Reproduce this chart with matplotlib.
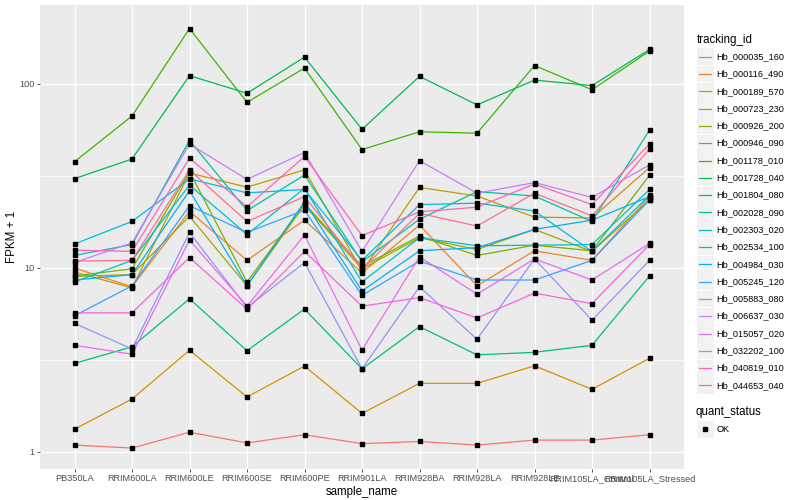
import numpy as np
import matplotlib
matplotlib.use('Agg')
import matplotlib.pyplot as plt
from matplotlib.lines import Line2D
from matplotlib.patches import Rectangle

plt.rcParams['font.family'] = ['Liberation Sans', 'DejaVu Sans']

samples = ['PB350LA', 'RRIM600LA', 'RRIM600LE', 'RRIM600SE', 'RRIM600PE', 'RRIM901LA',
           'RRIM928BA', 'RRIM928LA', 'RRIM928LE', 'RRIM105LA_Control', 'RRIM105LA_Stressed']

tracking_ids = ['Hb_000035_160', 'Hb_000116_490', 'Hb_000189_570', 'Hb_000723_230',
                'Hb_000926_200', 'Hb_000946_090', 'Hb_001178_010', 'Hb_001728_040',
                'Hb_001804_080', 'Hb_002028_090', 'Hb_002303_020', 'Hb_002534_100',
                'Hb_004984_030', 'Hb_005245_120', 'Hb_005883_080', 'Hb_006637_030',
                'Hb_015057_020', 'Hb_032202_100', 'Hb_040819_010', 'Hb_044653_040']

colors = ['#F8766D', '#EA8331', '#D89000', '#C09B00', '#A3A500', '#7CAE00', '#39B600',
          '#00BB4E', '#00BF7D', '#00C1A3', '#00BFC4', '#00BAE0', '#00B0F6', '#35A2FF',
          '#9590FF', '#C77CFF', '#E76BF3', '#FA62DB', '#FF62BC', '#FF6C91']

# FPKM + 1 values, one list per tracking_id (order of samples above)
fpkm = {
    'Hb_000035_160': [1.09, 1.05, 1.28, 1.12, 1.24, 1.11, 1.14, 1.09, 1.16, 1.16, 1.24],
    'Hb_000116_490': [10.0, 7.9, 20.3, 11.0, 18.2, 9.4, 17.1, 8.0, 12.4, 11.0, 24.4],
    'Hb_000189_570': [1.33, 1.94, 3.57, 1.99, 2.93, 1.62, 2.36, 2.36, 2.94, 2.19, 3.23],
    'Hb_000723_230': [9.5, 7.8, 32.8, 27.5, 34.1, 9.6, 27.4, 24.6, 18.9, 18.7, 35.1],
    'Hb_000926_200': [9.0, 9.2, 19.1, 8.0, 22.0, 9.9, 14.6, 12.6, 16.2, 12.3, 23.4],
    'Hb_000946_090': [9.05, 9.9, 33.4, 8.4, 22.4, 10.2, 14.9, 11.7, 13.3, 12.4, 31.9],
    'Hb_001178_010': [37.8, 67.0, 200.0, 79.5, 122.0, 44.0, 55.0, 54.0, 126.0, 93.0, 151.0],
    'Hb_001728_040': [30.6, 39.1, 111.0, 89.0, 140.0, 56.7, 110.0, 77.0, 105.0, 98.0, 154.0],
    'Hb_001804_080': [3.03, 3.73, 6.8, 3.55, 5.98, 2.83, 4.8, 3.37, 3.48, 3.8, 9.05],
    'Hb_002028_090': [11.7, 13.4, 49.4, 20.5, 32.0, 10.8, 18.4, 26.0, 24.6, 17.9, 56.2],
    'Hb_002303_020': [8.4, 11.0, 28.2, 15.2, 27.1, 8.4, 14.6, 13.2, 13.3, 13.4, 26.7],
    'Hb_002534_100': [13.5, 17.9, 30.5, 25.6, 26.7, 11.0, 22.1, 22.5, 20.4, 12.3, 24.8],
    'Hb_004984_030': [8.6, 9.2, 26.3, 8.0, 22.9, 7.5, 12.4, 12.9, 16.2, 18.2, 24.4],
    'Hb_005245_120': [5.5, 8.0, 21.8, 15.6, 20.6, 7.1, 10.9, 8.6, 8.6, 11.0, 23.4],
    'Hb_005883_080': [5.0, 3.63, 15.6, 6.1, 10.7, 2.83, 7.9, 4.1, 11.2, 5.2, 11.0],
    'Hb_006637_030': [10.7, 13.7, 47.2, 30.3, 42.4, 12.3, 38.3, 25.5, 29.1, 24.2, 36.3],
    'Hb_015057_020': [3.8, 3.4, 14.2, 6.2, 15.1, 3.58, 11.5, 7.2, 11.2, 8.6, 13.6],
    'Hb_032202_100': [5.7, 5.7, 11.4, 5.97, 12.3, 6.2, 6.9, 5.35, 7.3, 6.4, 13.4],
    'Hb_040819_010': [12.5, 12.3, 39.5, 21.5, 40.3, 15.0, 20.2, 21.4, 28.6, 22.1, 47.2],
    'Hb_044653_040': [10.9, 11.0, 34.1, 17.9, 24.4, 9.9, 19.8, 16.9, 25.5, 19.2, 44.4],
}

fig = plt.figure(figsize=(8, 5), dpi=100)
ax = fig.add_axes([0.05, 0.0626, 0.805, 0.9274])
ax.set_facecolor('#EBEBEB')

x = np.arange(len(samples))
for tid, col in zip(tracking_ids, colors):
    ax.plot(x, fpkm[tid], color=col, lw=0.9, zorder=3)
for tid in tracking_ids:
    ax.plot(x, fpkm[tid], ls='none', marker='s', ms=2.2, color='black', zorder=4)

ax.set_yscale('log')
ax.set_ylim(0.811, 268.7)
ax.set_xlim(-0.6, len(samples) - 0.4)
ax.set_yticks([1, 10, 100])
ax.set_yticklabels(['1', '10', '100'])
ax.yaxis.set_minor_locator(matplotlib.ticker.NullLocator())
ax.set_xticks(x)
ax.set_xticklabels(samples)

for v in [1, 10, 100]:
    ax.axhline(v, color='white', lw=1.0, zorder=1)
for v in [10 ** 0.5, 10 ** 1.5]:
    ax.axhline(v, color='white', lw=0.5, zorder=1)
for xi in x:
    ax.axvline(xi, color='white', lw=1.0, zorder=1)

for s in ax.spines.values():
    s.set_visible(False)
ax.tick_params(axis='both', colors='#333333', length=2.5, width=0.6, labelsize=6.6,
               labelcolor='#4D4D4D', pad=1.5)
ax.set_xlabel('sample_name', fontsize=8.3, labelpad=2)
ax.set_ylabel('FPKM + 1', fontsize=8.3, labelpad=0.5)

# legend drawn by hand, ggplot style
W, H = 800.0, 500.0
fig.text(697 / W, 1 - 40.5 / H, 'tracking_id', fontsize=8.3, va='center', ha='left')
for i, (tid, col) in enumerate(zip(tracking_ids, colors)):
    yc = 56.7 + i * 17.3
    fig.add_artist(Rectangle((697 / W, 1 - (yc + 8.4) / H), 16.5 / W, 16.8 / H,
                             transform=fig.transFigure, facecolor='#F2F2F2',
                             edgecolor='none'))
    fig.add_artist(Line2D([698.8 / W, 711.2 / W], [1 - yc / H, 1 - yc / H],
                          transform=fig.transFigure, color=col, lw=0.9))
    fig.text(716.5 / W, 1 - yc / H, tid, fontsize=6.6, va='center', ha='left')

fig.text(696 / W, 1 - 412.5 / H, 'quant_status', fontsize=8.3, va='center', ha='left')
fig.add_artist(Rectangle((697 / W, 1 - (429.3 + 8.4) / H), 16.5 / W, 16.8 / H,
                         transform=fig.transFigure, facecolor='#F2F2F2', edgecolor='none'))
fig.add_artist(Line2D([705.2 / W], [1 - 429.3 / H], transform=fig.transFigure,
                      marker='s', ms=2.2, color='black', ls='none'))
fig.text(716.5 / W, 1 - 429.3 / H, 'OK', fontsize=6.6, va='center', ha='left')

fig.savefig('out.png', dpi=100)
